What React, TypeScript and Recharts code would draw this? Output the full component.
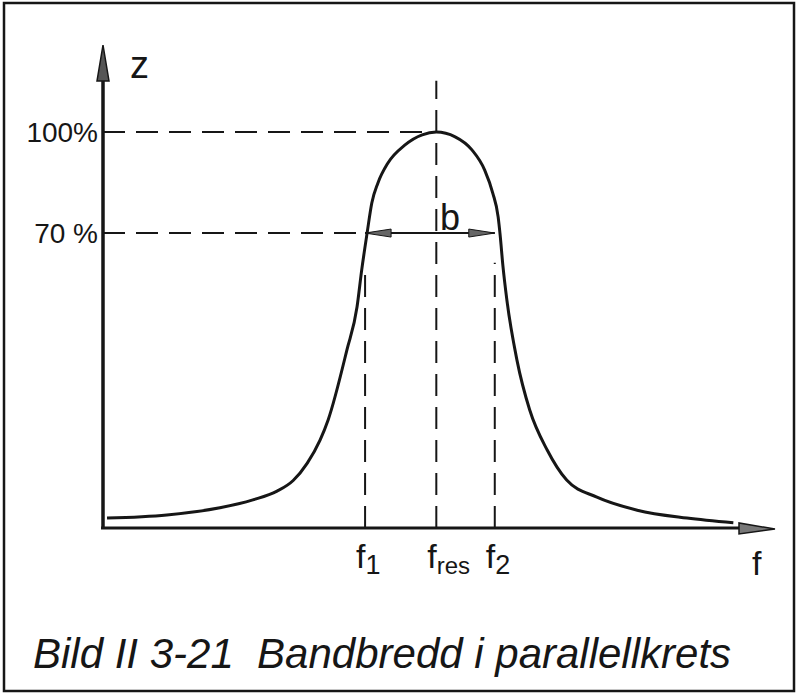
import { LineChart, Line, XAxis, YAxis, ReferenceLine } from 'recharts';

// frequency in arbitrary units along the f-axis, z (peak = 100)
const freq = [0.6, 9.5, 17.4, 22.3, 25.9, 28.3, 30.4, 32.3, 33.5, 36.3, 37.8, 38.5, 39.3, 40.0, 40.9, 42.4, 44.9, 47.5, 49.6, 52.4, 54.9, 56.8, 58.0, 58.8, 59.1, 59.5, 60.1, 61.6, 63.5, 66.1, 69.0, 73.5, 79.5, 86.9, 93.8];
const impedance = [2.5, 3.3, 5.1, 7.1, 9.3, 12.0, 16.4, 22.2, 27.3, 45.0, 55.8, 65.2, 74.5, 82.1, 87.1, 92.2, 96.7, 99.3, 100, 98.8, 95.5, 90.4, 84.6, 78.6, 74.0, 66.4, 57.6, 42.4, 29.8, 19.7, 12.1, 7.8, 4.5, 2.5, 1.3];

const F1 = 39.0;
const FRES = 49.6;
const F2 = 58.3;
const BAND_LEVEL = 74.5; // where the "70 %" line is drawn
const PEAK = 100;

const xTicks = [F1, FRES, F2];
const xTickSubs = ['1', 'res', '2'];
const yTicks = [BAND_LEVEL, PEAK];
const yTickLabels = ['70 %', '100%'];

const data = freq.map((f, i) => ({ f, z: impedance[i] }));

const INK = '#161616';
const FONT = '"Liberation Sans", Arial, sans-serif';

const XTick = (props: any) => {
  const { x, y, payload } = props;
  const i = xTicks.indexOf(payload.value);
  return (
    <text x={x - 9} y={y + 40} fill={INK} fontFamily={FONT} fontSize={34}>
      <tspan>f</tspan>
      <tspan dy={6} fontSize={i === 1 ? 24 : 27}>{xTickSubs[i]}</tspan>
    </text>
  );
};

const yAxisShape = (p: any) => (
  <g>
    <line x1={p.x1} y1={p.y1} x2={p.x2} y2={p.y2 + 20} stroke={INK} strokeWidth={3.5} />
    <polygon points={`${p.x2},${p.y2} ${p.x2 - 6},${p.y2 + 36} ${p.x2 + 6},${p.y2 + 36}`} fill="#555" stroke={INK} strokeWidth={1.5} />
    <text x={p.x2 + 27} y={p.y2 + 33} fontFamily={FONT} fontSize={38} fill={INK}>z</text>
  </g>
);

const xAxisShape = (p: any) => (
  <g>
    <line x1={p.x1 - 2} y1={p.y1} x2={p.x2 - 20} y2={p.y2} stroke={INK} strokeWidth={3} />
    <polygon points={`${p.x2},${p.y2 + 1} ${p.x2 - 36},${p.y2 - 5} ${p.x2 - 36},${p.y2 + 6}`} fill="#777" stroke={INK} strokeWidth={1.5} />
    <text x={p.x2 - 23} y={p.y2 + 47} fontFamily={FONT} fontSize={34} fill={INK}>f</text>
  </g>
);

const bandShape = (p: any) => (
  <g>
    <line x1={p.x1} y1={p.y1} x2={p.x2} y2={p.y2} stroke={INK} strokeWidth={2} />
    <polygon points={`${p.x1},${p.y1} ${p.x1 + 26},${p.y1 - 4} ${p.x1 + 26},${p.y1 + 4}`} fill="#666" stroke={INK} strokeWidth={1} />
    <polygon points={`${p.x2},${p.y2} ${p.x2 - 26},${p.y2 - 4} ${p.x2 - 26},${p.y2 + 4}`} fill="#666" stroke={INK} strokeWidth={1} />
    <text x={(p.x1 + p.x2) / 2 + 10} y={p.y1 - 3} fontFamily={FONT} fontSize={36} fill={INK}>b</text>
  </g>
);

const dash = { stroke: INK, strokeWidth: 2, strokeDasharray: '22 11' };

export default function App() {
  return (
    <div style={{ position: 'absolute', left: 0, top: 0, width: 798, height: 696, background: '#fff' }}>
      <svg width={798} height={696} style={{ position: 'absolute', left: 0, top: 0 }}>
        <rect x={4} y={3} width={790} height={688} fill="none" stroke={INK} strokeWidth={2.5} />
        <text x={33} y={668} fontFamily={FONT} fontStyle="italic" fontSize={42} fill={INK} style={{ whiteSpace: 'pre' }}>
          {'Bild II 3-21  Bandbredd i parallellkrets'}
        </text>
      </svg>
      <div style={{ position: 'absolute', left: 0, top: 0 }}>
        <LineChart width={798} height={696} data={data} margin={{ top: 45, right: 23, left: 0, bottom: 108 }}>
          <XAxis
            type="number"
            dataKey="f"
            domain={[0, 100]}
            allowDataOverflow
            ticks={xTicks}
            tick={<XTick />}
            axisLine={false}
            tickLine={false}
            tickSize={0}
            tickMargin={0}
            height={60}
            interval={0}
          />
          <YAxis
            type="number"
            domain={[0, 122]}
            allowDataOverflow
            ticks={yTicks}
            tickFormatter={(v: number) => yTickLabels[yTicks.indexOf(v)]}
            tick={{ fontSize: 28, fill: INK, fontFamily: FONT }}
            axisLine={false}
            tickLine={false}
            tickSize={3}
            tickMargin={2}
            width={103}
            interval={0}
          />
          <ReferenceLine segment={[{ x: 0, y: PEAK }, { x: FRES, y: PEAK }]} {...dash} />
          <ReferenceLine segment={[{ x: 0, y: BAND_LEVEL }, { x: F1, y: BAND_LEVEL }]} {...dash} />
          <ReferenceLine segment={[{ x: FRES, y: 0 }, { x: FRES, y: 113 }]} {...dash} />
          <ReferenceLine segment={[{ x: F1, y: 0 }, { x: F1, y: 66 }]} {...dash} />
          <ReferenceLine segment={[{ x: F2, y: 0 }, { x: F2, y: 67 }]} {...dash} />
          <ReferenceLine segment={[{ x: F1, y: BAND_LEVEL }, { x: F2, y: BAND_LEVEL }]} shape={bandShape} />
          <ReferenceLine segment={[{ x: 0, y: 0 }, { x: 0, y: 122 }]} shape={yAxisShape} />
          <ReferenceLine segment={[{ x: 0, y: 0 }, { x: 100, y: 0 }]} shape={xAxisShape} />
          <Line
            type="monotone"
            dataKey="z"
            stroke={INK}
            strokeWidth={3}
            dot={false}
            isAnimationActive={false}
          />
        </LineChart>
      </div>
    </div>
  );
}
